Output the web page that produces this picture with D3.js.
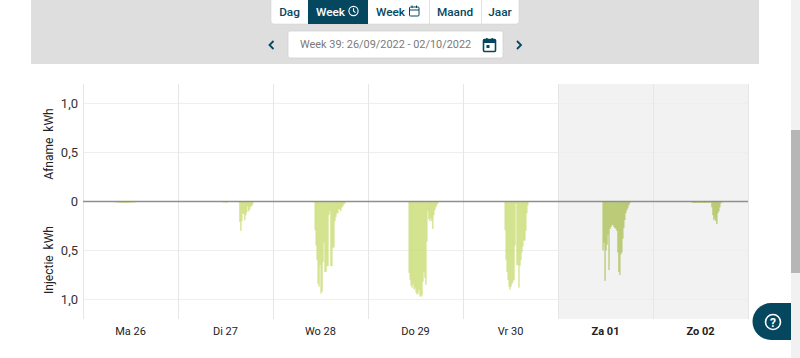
<!DOCTYPE html>
<html>
<head>
<meta charset="utf-8">
<script src="https://cdn.jsdelivr.net/npm/d3@7"></script>
<style>
html, body { margin: 0; padding: 0; background: #fff; overflow: hidden; }
text { font-family: Roboto, sans-serif; }
</style>
</head>
<body>
<script>
var dayLabels = ['Ma 26','Di 27','Wo 28','Do 29','Vr 30','Za 01','Zo 02'];
var yTicks = [1, 0.5, 0, -0.5, -1];
var tabs = [
	{label:'Dag', from:271, to:308},
	{label:'Week', from:308, to:368, active:true},
	{label:'Week', from:368, to:429},
	{label:'Maand', from:429, to:481},
	{label:'Jaar', from:481, to:519}
];

// injection per quarter hour, first entry is the slot in the day where the run starts
var ma26 = [30, 0.005,0.005,0.01,0.005,0.01,0.01,0.015,0.01,0.015,0.015,0.015,0.01,0.015,0.015,0.01,0.015,0.01,0.01,0.015,0.01,0.01,0.005,0.01,0.005];
var di27 = [45, 0.01,0.005,0.01,0.015,0.01,0.005,0,0,0,0,0,0,0,0,0,0.005,0.01, 0.21,0.3,0.2,0.12,0.13,0.19,0.14,0.11,0.05,0.1,0.08,0.05,0.05,0.03];
var wo28 = [42, 0.29,0.45,0.6,0.84,0.87,0.65,0.94,0.92,0.62,0.42,0.72,0.72,0.66,0.66,0.14,0.1,0.66,0.66,0.47,0.47,0.2,0.16,0.12,0.12,0.08,0.08,0.1,0.06,0.05,0.03,0.02,0.01];
var do29 = [41, 0.73,0.8,0.86,0.88,0.84,0.9,0.88,0.93,0.95,0.94,0.9,0.97,0.97,0.96,0.82,0.72,0.78,0.85,0.41,0.1,0.18,0.2,0.17,0.2,0.28,0.14,0.09,0.06,0.04,0.02];
var vr30 = [42, 0.29,0.6,0.72,0.8,0.87,0.9,0.87,0.84,0.82,0.8,0.45,0.02,0.65,0.65,0.88,0.66,0.6,0.52,0.46,0.4,0.4,0.3,0.12,0.04];
var za01 = [45, 0.5,0.42,0.81,0.5,0.44,0.34,0.7,0.28,0.26,0.24,0.24,0.26,0.27,0.28,0.3,0.52,0.72,0.75,0.54,0.52,0.38,0.27,0.19,0.12,0.09,0.07,0.04,0.02];
var zo02 = [39, 0.01,0.015,0.01,0.015,0.015,0.01,0.015,0.01,0.015,0.01,0.015,0.01,0.015,0.015,0.01,0.015,0.01,0.015,0.01,0.01,0.06,0.14,0.19,0.17,0.2,0.23,0.12,0.1,0.06,0.02,0.01];
var weekRuns = [ma26, di27, wo28, do29, vr30, za01, zo02];

var SLOTS = 96;
var teal = '#04475f';
var chartLeft = 83, chartRight = 748, chartTop = 84, chartBottom = 319;

var translate = function(x,y){
	return `translate(${x},${y})`;
};

var xDay = d3.scaleBand().domain(dayLabels).range([chartLeft,chartRight]);
var xSlot = d3.scaleLinear().domain([0,SLOTS]).range([0,xDay.bandwidth()]);
var yScale = d3.scaleLinear().domain([-1.2,1.2]).range([chartBottom,chartTop]);

var formatTick = function(d){
	return d === 0 ? '0' : Math.abs(d).toFixed(1).replace('.',',');
};

var svg = d3.select('body').append('svg').attr('width',800).attr('height',358).style('display','block');

// header panel
svg.append('rect').attr('x',31).attr('y',0).attr('width',728).attr('height',64).attr('fill','#dedede');
svg.append('rect').attr('x',271).attr('y',-6).attr('width',248).attr('height',30).attr('rx',3)
	.attr('fill','#fff').attr('stroke','#cfcfcf').attr('stroke-width',0.5);

tabs.forEach(function(t,i){
	if(t.active){
		svg.append('rect').attr('x',t.from).attr('y',0).attr('width',t.to-t.from).attr('height',24).attr('fill',teal);
	} else if(i > 0 && !tabs[i-1].active){
		svg.append('line').attr('x1',t.from+0.5).attr('x2',t.from+0.5).attr('y1',0).attr('y2',24).attr('stroke','#e2e2e2');
	}
	var hasIcon = t.label === 'Week';
	svg.append('text').text(t.label)
		.attr('x',hasIcon ? t.from+8 : (t.from+t.to)/2)
		.attr('y',15.5)
		.attr('text-anchor',hasIcon ? 'start' : 'middle')
		.attr('font-size',11.8).attr('font-weight',500)
		.attr('fill',t.active ? '#fff' : teal);
});

// clock icon in the active tab
var clock = svg.append('g').attr('transform',translate(353.5,11)).attr('fill','none').attr('stroke','#fff').attr('stroke-width',1.1);
clock.append('circle').attr('r',4.6);
clock.append('path').attr('d','M0,-2.8V0L2,1.6');

// calendar outline in the second week tab
var cal = svg.append('g').attr('transform',translate(409.5,5.5)).attr('fill','none').attr('stroke',teal).attr('stroke-width',1);
cal.append('rect').attr('x',0).attr('y',1.5).attr('width',9.5).attr('height',9).attr('rx',1);
cal.append('path').attr('d','M0,4.5H9.5M2.6,0V2.5M7,0V2.5');

// date picker row
svg.append('rect').attr('x',288).attr('y',31).attr('width',215).attr('height',27).attr('rx',2)
	.attr('fill','#fff').attr('stroke','#cfcfcf').attr('stroke-width',0.7);
svg.append('text').text('Week 39: 26/09/2022 - 02/10/2022')
	.attr('x',300).attr('y',48).attr('font-size',10.9).attr('fill','#7a7a7a');
svg.append('path').attr('d','M273.5,41L269.5,45L273.5,49').attr('fill','none').attr('stroke',teal).attr('stroke-width',1.8);
svg.append('path').attr('d','M517,41L521,45L517,49').attr('fill','none').attr('stroke',teal).attr('stroke-width',1.8);
var picker = svg.append('g').attr('transform',translate(483.5,38));
picker.append('rect').attr('x',0).attr('y',1.5).attr('width',12).attr('height',12).attr('rx',1).attr('fill','none').attr('stroke',teal).attr('stroke-width',1.6);
picker.append('rect').attr('x',0).attr('y',1.5).attr('width',12).attr('height',3.5).attr('fill',teal);
picker.append('rect').attr('x',2.5).attr('y',0).attr('width',1.6).attr('height',3).attr('fill',teal);
picker.append('rect').attr('x',8).attr('y',0).attr('width',1.6).attr('height',3).attr('fill',teal);
picker.append('rect').attr('x',3).attr('y',7).attr('width',3).attr('height',3).attr('fill',teal);

// weekend band
svg.append('rect')
	.attr('x',xDay('Za 01')).attr('y',chartTop)
	.attr('width',xDay.bandwidth()*2).attr('height',chartBottom-chartTop)
	.attr('fill','#f2f2f2');

// grid
svg.append('g').selectAll('line').data(yTicks.filter(function(d){return d !== 0;})).join('line')
	.attr('x1',chartLeft).attr('x2',chartRight)
	.attr('y1',function(d){return yScale(d);}).attr('y2',function(d){return yScale(d);})
	.attr('stroke','#eeeeee');
var dayEdges = dayLabels.map(function(d){return xDay(d);}).concat([chartRight]);
svg.append('g').selectAll('line').data(dayEdges).join('line')
	.attr('x1',function(d){return d+0.5;}).attr('x2',function(d){return d+0.5;})
	.attr('y1',chartTop).attr('y2',chartBottom)
	.attr('stroke','#e6e6e6');

// bars
weekRuns.forEach(function(run,i){
	var day = dayLabels[i];
	var start = run[0];
	svg.append('g').selectAll('rect').data(run.slice(1)).join('rect')
		.attr('x',function(d,j){return xDay(day)+xSlot(start+j);})
		.attr('y',yScale(0))
		.attr('width',xSlot(1)+0.1)
		.attr('height',function(d){return yScale(-d)-yScale(0);})
		.attr('fill',i >= 5 ? '#aec25c' : '#c9dc74');
});

// zero line
svg.append('line').attr('x1',chartLeft).attr('x2',chartRight)
	.attr('y1',yScale(0)).attr('y2',yScale(0))
	.attr('stroke','#8e8e8e').attr('stroke-width',1.3);

// axes
var yAxis = d3.axisLeft(yScale).tickValues(yTicks).tickFormat(formatTick).tickSize(0).tickPadding(5);
var yG = svg.append('g').attr('transform',translate(chartLeft,0)).call(yAxis);
yG.select('.domain').remove();
yG.selectAll('text').attr('font-size',13).attr('fill','#333').style('font-family','Roboto, sans-serif');

var xAxis = d3.axisBottom(xDay).tickSize(0).tickPadding(8);
var xG = svg.append('g').attr('transform',translate(0,chartBottom)).call(xAxis);
xG.select('.domain').remove();
xG.selectAll('text').attr('font-size',11).attr('fill','#222').style('font-family','Roboto, sans-serif')
	.attr('font-weight',function(d){return d === 'Za 01' || d === 'Zo 02' ? 700 : 400;});

var writeAxisTitle = function(word,y){
	svg.append('text').text(word)
		.attr('transform',translate(53,y)+' rotate(-90)')
		.attr('text-anchor','middle')
		.attr('font-size',12).attr('fill','#222')
		.style('white-space','pre');
};
writeAxisTitle('Afname  kWh',144);
writeAxisTitle('Injectie  kWh',260);

// scrollbar
svg.append('rect').attr('x',791).attr('y',0).attr('width',9).attr('height',358).attr('fill','#f1f1f1');
svg.append('rect').attr('x',791).attr('y',130).attr('width',9).attr('height',143).attr('fill','#b6b6b6');

// help button
svg.append('path').attr('d','M791,303H771A18.5,18.5 0 0 0 771,340H791Z').attr('fill',teal);
svg.append('circle').attr('cx',773).attr('cy',322).attr('r',7.5).attr('fill','none').attr('stroke','#fff').attr('stroke-width',1.6);
svg.append('text').text('?').attr('x',773).attr('y',326.5).attr('text-anchor','middle')
	.attr('font-size',12).attr('font-weight',700).attr('fill','#fff');
</script>
</body>
</html>
